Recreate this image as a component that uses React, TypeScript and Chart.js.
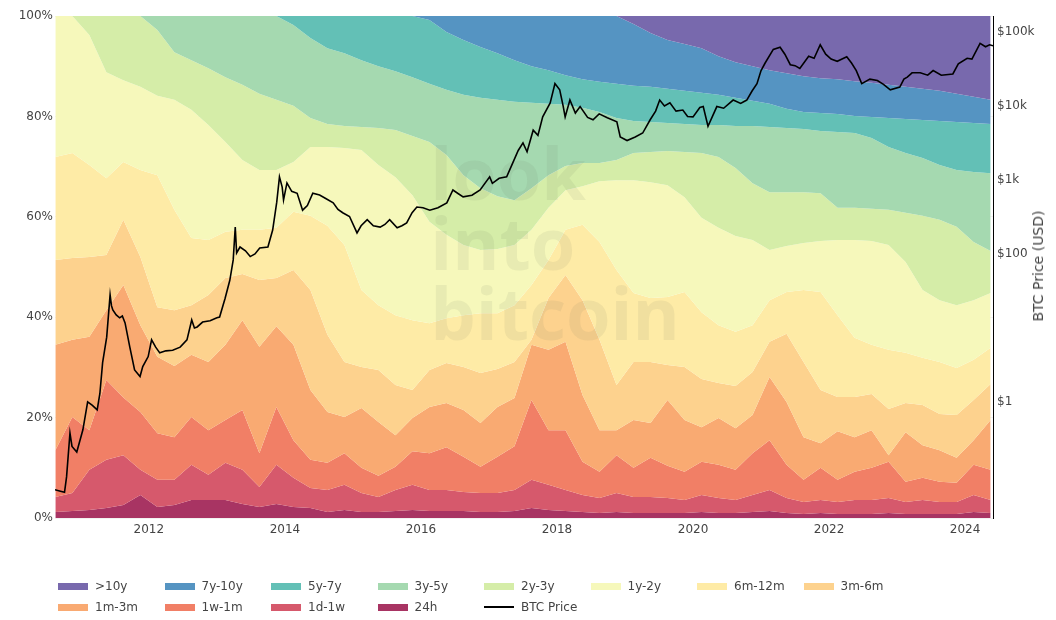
import React, { useEffect, useRef } from "react";
import { Chart, registerables } from "chart.js";

Chart.register(...registerables);

const FONT = "'DejaVu Sans', Verdana, sans-serif";
const TEXT = "#444444";

// quarterly sample dates (decimal years)
const dates = [
  2010.625, 2010.875, 2011.125, 2011.375, 2011.625, 2011.875, 2012.125, 2012.375, 2012.625, 2012.875,
  2013.125, 2013.375, 2013.625, 2013.875, 2014.125, 2014.375, 2014.625, 2014.875, 2015.125, 2015.375,
  2015.625, 2015.875, 2016.125, 2016.375, 2016.625, 2016.875, 2017.125, 2017.375, 2017.625, 2017.875,
  2018.125, 2018.375, 2018.625, 2018.875, 2019.125, 2019.375, 2019.625, 2019.875, 2020.125, 2020.375,
  2020.625, 2020.875, 2021.125, 2021.375, 2021.625, 2021.875, 2022.125, 2022.375, 2022.625, 2022.875,
  2023.125, 2023.375, 2023.625, 2023.875, 2024.125, 2024.375,
];

// % of supply last moved within each age (cumulative)
const under24h = [
  1.2, 1.4, 1.6, 2.0, 2.6, 4.6, 2.2, 2.6, 3.6, 3.6,
  3.6, 2.8, 2.2, 2.8, 2.2, 2.0, 1.2, 1.6, 1.2, 1.2,
  1.4, 1.6, 1.4, 1.4, 1.4, 1.2, 1.2, 1.4, 2.0, 1.6,
  1.4, 1.2, 1.0, 1.2, 1.0, 1.0, 1.0, 1.0, 1.2, 1.0,
  1.0, 1.2, 1.4, 1.0, 0.8, 1.0, 0.8, 0.8, 0.8, 1.0,
  0.8, 0.8, 0.8, 0.8, 1.2, 1.0,
];
const under1w = [
  4.2, 5.0, 9.6, 11.6, 12.5, 9.6, 7.6, 7.6, 10.6, 8.6,
  11.0, 9.6, 6.2, 10.6, 8.0, 6.0, 5.6, 6.6, 5.0, 4.2,
  5.6, 6.6, 5.6, 5.6, 5.2, 5.0, 5.0, 5.6, 7.6, 6.6,
  5.6, 4.6, 4.0, 5.0, 4.2, 4.2, 4.0, 3.6, 4.6, 4.0,
  3.6, 4.6, 5.6, 4.0, 3.2, 3.6, 3.2, 3.6, 3.6, 4.0,
  3.2, 3.6, 3.2, 3.2, 4.6, 3.6,
];
const under1m = [
  13.5, 20.1, 17.5, 27.5, 24.0, 21.1, 16.9, 16.1, 20.1, 17.5,
  19.5, 21.5, 12.9, 22.1, 15.5, 11.6, 11.0, 12.9, 10.0, 8.4,
  10.2, 13.3, 12.9, 14.1, 12.2, 10.2, 12.2, 14.3, 23.5, 17.5,
  17.5, 11.2, 9.2, 12.5, 10.0, 12.0, 10.4, 9.2, 11.2, 10.6,
  9.6, 12.9, 15.5, 10.6, 7.6, 10.0, 7.6, 9.2, 10.0, 11.2,
  7.2, 8.0, 7.2, 7.0, 10.6, 9.6,
];
const under3m = [
  34.5, 35.5, 36.1, 41.4, 46.4, 38.4, 32.1, 30.3, 32.5, 31.1,
  34.5, 39.4, 34.1, 38.2, 34.5, 25.5, 21.1, 20.1, 21.9, 19.1,
  16.5, 19.9, 22.1, 22.9, 21.5, 18.9, 22.1, 23.9, 34.5, 33.5,
  35.1, 24.5, 17.5, 17.5, 19.5, 18.9, 23.5, 19.5, 18.1, 19.9,
  17.9, 20.5, 28.1, 23.1, 16.1, 14.9, 17.3, 16.1, 17.5, 12.5,
  17.1, 14.5, 13.5, 12.0, 15.5, 19.5,
];
const under6m = [
  51.4, 51.8, 52.0, 52.4, 59.4, 52.0, 42.0, 41.4, 42.4, 44.4,
  47.8, 48.6, 47.4, 47.8, 49.4, 45.4, 36.5, 31.1, 30.1, 29.5,
  26.5, 25.5, 29.5, 30.9, 30.1, 28.9, 29.7, 31.1, 35.5, 43.8,
  48.4, 43.4, 35.5, 26.5, 31.1, 31.1, 30.5, 30.1, 27.7, 26.9,
  26.3, 29.1, 35.1, 36.7, 31.1, 25.5, 24.1, 24.1, 24.7, 21.7,
  22.9, 22.5, 20.7, 20.5, 23.5, 26.7,
];
const under1y = [
  71.9, 72.7, 70.3, 67.7, 70.9, 69.3, 68.3, 61.4, 55.8, 55.4,
  57.0, 57.4, 57.4, 57.8, 61.0, 60.2, 58.2, 54.4, 45.4, 42.4,
  40.4, 39.4, 38.8, 39.8, 40.4, 40.8, 40.8, 42.4, 46.4, 51.4,
  57.4, 58.4, 55.0, 49.4, 44.8, 43.8, 44.0, 45.0, 41.0, 38.4,
  37.1, 38.4, 43.4, 45.0, 45.4, 45.0, 40.4, 35.9, 34.5, 33.5,
  32.9, 31.9, 31.1, 29.9, 31.5, 33.9,
];
const under2y = [
  100, 100, 96.2, 88.8, 87.2, 85.9, 84.1, 83.3, 81.3, 78.3,
  74.9, 71.3, 69.3, 69.3, 70.9, 73.9, 73.9, 73.7, 73.3, 70.3,
  67.9, 64.3, 59.0, 56.4, 54.4, 53.4, 53.6, 54.4, 57.4, 61.8,
  65.3, 66.1, 67.1, 67.3, 67.3, 66.9, 66.3, 63.9, 59.8, 57.8,
  56.2, 55.4, 53.4, 54.2, 54.8, 55.2, 55.4, 55.4, 55.2, 54.4,
  51.0, 45.4, 43.4, 42.4, 43.4, 44.8,
];
const under3y = [
  100, 100, 100, 100, 100, 100, 97.2, 92.8, 91.2, 89.6,
  87.8, 86.3, 84.5, 83.3, 82.1, 79.7, 78.5, 78.1, 77.9, 77.7,
  77.3, 76.1, 74.9, 72.3, 68.3, 65.7, 64.1, 63.3, 65.7, 68.3,
  70.1, 70.7, 70.7, 71.3, 72.7, 72.9, 73.1, 72.9, 72.7, 71.9,
  69.7, 66.7, 64.9, 64.9, 64.9, 64.7, 61.8, 61.8, 61.6, 61.4,
  60.8, 60.2, 59.4, 58.0, 55.0, 53.2,
];
const under5y = [
  100, 100, 100, 100, 100, 100, 100, 100, 100, 100,
  100, 100, 100, 100, 98.2, 95.6, 93.6, 92.6, 91.2, 90.0,
  89.0, 87.8, 86.5, 85.3, 84.3, 83.7, 83.3, 82.9, 82.7, 82.5,
  82.3, 81.7, 80.9, 79.7, 79.1, 78.9, 78.7, 78.5, 78.3, 78.3,
  78.1, 78.1, 77.9, 77.7, 77.5, 77.1, 76.9, 76.7, 75.7, 73.9,
  72.7, 71.7, 70.3, 69.3, 68.9, 68.7,
];
const under7y = [
  100, 100, 100, 100, 100, 100, 100, 100, 100, 100,
  100, 100, 100, 100, 100, 100, 100, 100, 100, 100,
  100, 100, 99.2, 96.8, 95.2, 93.8, 92.6, 91.2, 90.0, 89.2,
  88.2, 87.4, 86.9, 86.5, 86.1, 85.9, 85.5, 85.1, 84.7, 84.3,
  83.7, 83.1, 82.5, 81.5, 80.9, 80.7, 80.5, 80.1, 79.9, 79.7,
  79.5, 79.3, 79.1, 78.9, 78.7, 78.5,
];
const under10y = [
  100, 100, 100, 100, 100, 100, 100, 100, 100, 100,
  100, 100, 100, 100, 100, 100, 100, 100, 100, 100,
  100, 100, 100, 100, 100, 100, 100, 100, 100, 100,
  100, 100, 100, 100, 98.4, 96.6, 95.2, 94.4, 93.6, 92.0,
  90.8, 90.0, 89.2, 88.6, 88.0, 87.6, 87.4, 87.0, 86.7, 86.3,
  85.9, 85.5, 85.1, 84.5, 83.9, 83.3,
];

// BTC price (USD)
const priceDates = [
  2010.62, 2010.70, 2010.76, 2010.79, 2010.84, 2010.87, 2010.94, 2011.03, 2011.10, 2011.17,
  2011.24, 2011.28, 2011.32, 2011.38, 2011.43, 2011.45, 2011.47, 2011.52, 2011.57, 2011.61,
  2011.65, 2011.72, 2011.79, 2011.87, 2011.91, 2011.99, 2012.04, 2012.10, 2012.16, 2012.25,
  2012.35, 2012.46, 2012.56, 2012.63, 2012.67, 2012.71, 2012.79, 2012.90, 2013.00, 2013.04,
  2013.12, 2013.19, 2013.24, 2013.27, 2013.29, 2013.34, 2013.42, 2013.49, 2013.56, 2013.63,
  2013.75, 2013.82, 2013.88, 2013.92, 2013.96, 2013.98, 2014.03, 2014.10, 2014.18, 2014.26,
  2014.33, 2014.41, 2014.51, 2014.60, 2014.71, 2014.78, 2014.85, 2014.95, 2015.06, 2015.12,
  2015.21, 2015.30, 2015.40, 2015.47, 2015.54, 2015.65, 2015.72, 2015.79, 2015.87, 2015.94,
  2016.03, 2016.13, 2016.25, 2016.38, 2016.47, 2016.55, 2016.62, 2016.75, 2016.87, 2017.01,
  2017.05, 2017.15, 2017.26, 2017.35, 2017.43, 2017.50, 2017.56, 2017.65, 2017.72, 2017.79,
  2017.90, 2017.97, 2018.04, 2018.09, 2018.12, 2018.19, 2018.27, 2018.34, 2018.45, 2018.53,
  2018.62, 2018.74, 2018.88, 2018.93, 2019.03, 2019.15, 2019.26, 2019.37, 2019.45, 2019.51,
  2019.58, 2019.66, 2019.75, 2019.85, 2019.92, 2020.00, 2020.10, 2020.15, 2020.22, 2020.35,
  2020.45, 2020.59, 2020.70, 2020.79, 2020.87, 2020.94, 2021.00, 2021.06, 2021.18, 2021.28,
  2021.35, 2021.43, 2021.50, 2021.57, 2021.70, 2021.78, 2021.87, 2021.95, 2022.03, 2022.12,
  2022.26, 2022.33, 2022.40, 2022.48, 2022.60, 2022.71, 2022.80, 2022.90, 2023.04, 2023.10,
  2023.15, 2023.22, 2023.34, 2023.45, 2023.53, 2023.65, 2023.82, 2023.90, 2024.03, 2024.10,
  2024.22, 2024.30, 2024.36, 2024.41,
];
const priceUsd = [
  0.065, 0.062, 0.06, 0.097, 0.38, 0.25, 0.21, 0.42, 1.0, 0.9,
  0.78, 1.3, 3.4, 7.5, 28, 20, 17.5, 15, 13.7, 14.5,
  11.7, 5.5, 2.7, 2.2, 3.0, 4.1, 6.9, 5.5, 4.6, 4.9,
  5.0, 5.5, 6.9, 12.8, 10, 10.3, 12.0, 12.5, 13.7, 14,
  25, 44, 83, 230, 103, 124, 110, 92, 100, 120,
  124, 210, 500, 1100, 800, 535, 910, 700, 660, 390,
  450, 660, 625, 560, 490, 400, 360, 320, 192, 240,
  290, 240, 230, 250, 290, 225, 240, 262, 360, 430,
  420, 390, 420, 490, 730, 650, 590, 620, 730, 1100,
  900, 1050, 1100, 1700, 2500, 3160, 2400, 4700, 4000, 7100,
  11000, 20000, 16500, 10000, 7100, 12000, 8000, 9800, 7000, 6500,
  7800, 6900, 6100, 3800, 3400, 3800, 4300, 6500, 8500, 12000,
  10000, 11000, 8500, 8800, 7200, 7100, 9500, 9800, 5300, 9800,
  9300, 12000, 10800, 12000, 16000, 20000, 30000, 38000, 58000, 62000,
  50000, 36000, 35000, 32000, 47000, 44000, 67000, 50000, 43000, 40000,
  46000, 38000, 30000, 20000, 23000, 22000, 19500, 16500, 18000, 23000,
  24500, 28000, 28000, 26000, 30000, 26000, 27000, 37000, 44000, 43000,
  70000, 63000, 67000, 65000,
];

const bandNames = [">10y", "7y-10y", "5y-7y", "3y-5y", "2y-3y", "1y-2y", "6m-12m", "3m-6m", "1m-3m", "1w-1m", "1d-1w", "24h"];
const bandColors = [
  "#7869ad", "#5594c2", "#63c0b6", "#a5d9b0", "#d5eda8", "#f6f8bb",
  "#feeba6", "#fdd28e", "#f9aa72", "#f17f66", "#d6596c", "#a83463",
];
const bandTops = [under10y, under10y, under7y, under5y, under3y, under2y, under1y, under6m, under3m, under1m, under1w, under24h];

const yearTicks = [2012, 2014, 2016, 2018, 2020, 2022, 2024];
const pctTicks = [0, 20, 40, 60, 80, 100];
const priceTicks = [1, 100, 1000, 10000, 100000];

const watermark = {
  id: "watermark",
  beforeDatasetDraw(chart: any, args: any) {
    if (args.index !== bandNames.length) return;
    const { ctx, chartArea } = chart;
    const w = chartArea.right - chartArea.left;
    const h = chartArea.bottom - chartArea.top;
    ctx.save();
    ctx.font = "bold 72px 'Open Sans', sans-serif";
    ctx.fillStyle = "rgba(105,115,90,0.09)";
    ctx.textBaseline = "alphabetic";
    ctx.textAlign = "left";
    const x = chartArea.left + w * 0.4;
    ctx.fillText("look", x, chartArea.top + h * 0.367);
    ctx.fillText("into", x, chartArea.top + h * 0.506);
    ctx.fillText("bitcoin", x, chartArea.top + h * 0.645);
    ctx.restore();
  },
};

export default function App() {
  const canvasRef = useRef<HTMLCanvasElement | null>(null);

  useEffect(() => {
    const canvas = canvasRef.current;
    if (!canvas) return;

    const bandSets = bandNames.map((name, i) => ({
      label: name,
      data: dates.map((d, k) => ({ x: d, y: bandTops[i][k] })),
      yAxisID: "y",
      backgroundColor: bandColors[i],
      borderColor: bandColors[i],
      borderWidth: 0,
      pointRadius: 0,
      tension: 0,
      fill: i === 0 ? "end" : i === bandNames.length - 1 ? "origin" : "+1",
    }));

    const priceSet = {
      label: "BTC Price",
      data: priceDates.map((d, k) => ({ x: d, y: priceUsd[k] })),
      yAxisID: "y2",
      borderColor: "#000000",
      backgroundColor: "#000000",
      borderWidth: 1.6,
      pointRadius: 0,
      tension: 0,
      fill: false,
      order: -1,
    };

    const tickFont = { family: FONT, size: 12 };

    const chart = new Chart(canvas, {
      type: "line",
      data: { datasets: [...bandSets, priceSet] as any },
      options: {
        animation: false,
        responsive: false,
        maintainAspectRatio: false,
        layout: { padding: { top: 16, left: 0, right: 0, bottom: 0 } },
        plugins: {
          legend: { display: false },
          tooltip: { enabled: false },
        },
        scales: {
          x: {
            type: "linear",
            min: 2010.62,
            max: 2024.41,
            grid: { display: false, drawTicks: false },
            border: { display: false },
            afterBuildTicks: (s: any) => {
              s.ticks = yearTicks.map((v) => ({ value: v }));
            },
            afterFit: (s: any) => {
              s.height = 102;
            },
            ticks: {
              color: TEXT,
              font: tickFont,
              padding: 5,
              maxRotation: 0,
              autoSkip: false,
              callback: (v: any) => String(v),
            },
          },
          y: {
            type: "linear",
            position: "left",
            min: 0,
            max: 100,
            z: 1,
            grid: { color: "rgba(0,0,0,0.05)", drawTicks: false, lineWidth: 1 },
            border: { display: false },
            afterBuildTicks: (s: any) => {
              s.ticks = pctTicks.map((v) => ({ value: v }));
            },
            afterFit: (s: any) => {
              s.width = 55;
            },
            ticks: {
              color: TEXT,
              font: tickFont,
              padding: 2,
              callback: (v: any) => v + "%",
            },
          },
          y2: {
            type: "logarithmic",
            position: "right",
            min: 0.027,
            max: 164000,
            grid: { display: false, drawTicks: false },
            border: { display: true, color: "#000000", width: 1 },
            afterBuildTicks: (s: any) => {
              s.ticks = priceTicks.map((v) => ({ value: v }));
            },
            afterFit: (s: any) => {
              s.width = 63;
            },
            ticks: {
              color: TEXT,
              font: tickFont,
              padding: 4,
              autoSkip: false,
              callback: (v: any) => (v >= 1000 ? "$" + v / 1000 + "k" : "$" + v),
            },
          },
        },
      } as any,
      plugins: [watermark],
    });

    return () => chart.destroy();
  }, []);

  const legendItems = [
    ...bandNames.map((n, i) => ({ name: n, color: bandColors[i], line: false })),
    { name: "BTC Price", color: "#000000", line: true },
  ];

  return (
    <div
      style={{
        position: "absolute",
        left: 0,
        top: 0,
        width: 1056,
        height: 620,
        background: "#ffffff",
        fontFamily: FONT,
        overflow: "hidden",
      }}
    >
      <canvas ref={canvasRef} width={1056} height={620} style={{ display: "block", width: 1056, height: 620 }} />
      <div
        style={{
          position: "absolute",
          left: 1038,
          top: 266,
          transform: "translate(-50%, -50%) rotate(-90deg)",
          whiteSpace: "nowrap",
          fontSize: 14,
          color: TEXT,
        }}
      >
        BTC Price (USD)
      </div>
      {legendItems.map((it, k) => {
        const row = k < 8 ? 0 : 1;
        const col = k % 8;
        const left = 58 + col * 106.5;
        const cy = row === 0 ? 586 : 607;
        return (
          <div
            key={it.name}
            style={{
              position: "absolute",
              left,
              top: cy - 9,
              height: 18,
              display: "flex",
              alignItems: "center",
              fontSize: 12,
              color: TEXT,
              whiteSpace: "nowrap",
            }}
          >
            <span
              style={{
                display: "inline-block",
                width: 30,
                height: it.line ? 2 : 7,
                background: it.color,
                marginRight: 7,
              }}
            />
            <span>{it.name}</span>
          </div>
        );
      })}
    </div>
  );
}
